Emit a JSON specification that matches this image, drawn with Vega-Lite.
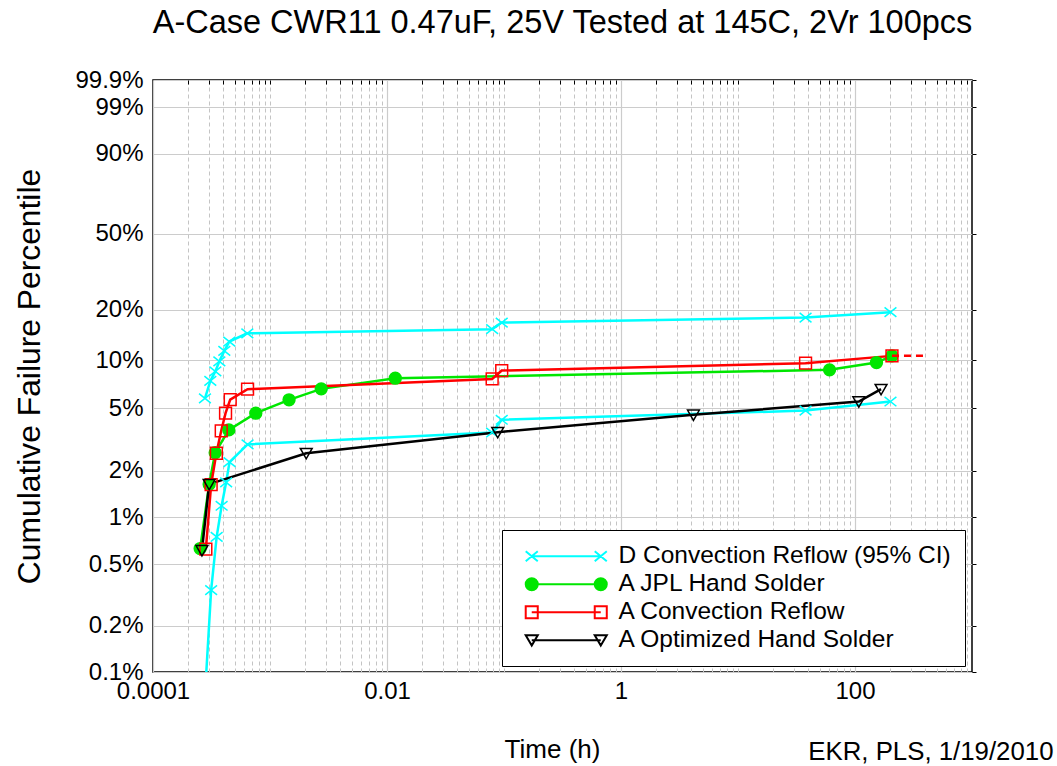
{
  "$schema": "https://vega.github.io/schema/vega-lite/v6.json",
  "width": 819,
  "height": 592,
  "autosize": {"type": "none"},
  "padding": {"left": 153, "top": 80, "right": 85, "bottom": 94},
  "background": "white",
  "config": {
    "font": "Liberation Sans",
    "view": {"stroke": "black", "strokeWidth": 1.5}
  },
  "title": {
    "text": "A-Case CWR11 0.47uF, 25V Tested at 145C, 2Vr 100pcs",
    "fontSize": 32.5,
    "fontWeight": "normal",
    "font": "Liberation Sans",
    "color": "black",
    "anchor": "middle",
    "frame": "group",
    "offset": 29
  },
  "datasets": {
    "points": [
      {"series": "D Convection Reflow (95% CI)", "curve": "upper", "t": 0.000278, "pct": 5.78},
      {"series": "D Convection Reflow (95% CI)", "curve": "upper", "t": 0.000309, "pct": 7.44},
      {"series": "D Convection Reflow (95% CI)", "curve": "upper", "t": 0.000341, "pct": 8.52},
      {"series": "D Convection Reflow (95% CI)", "curve": "upper", "t": 0.000369, "pct": 9.83},
      {"series": "D Convection Reflow (95% CI)", "curve": "upper", "t": 0.000407, "pct": 11.39},
      {"series": "D Convection Reflow (95% CI)", "curve": "upper", "t": 0.000449, "pct": 12.98},
      {"series": "D Convection Reflow (95% CI)", "curve": "upper", "t": 0.00064, "pct": 14.54},
      {"series": "D Convection Reflow (95% CI)", "curve": "upper", "t": 0.0792, "pct": 15.41},
      {"series": "D Convection Reflow (95% CI)", "curve": "upper", "t": 0.0956, "pct": 16.86},
      {"series": "D Convection Reflow (95% CI)", "curve": "upper", "t": 37.8, "pct": 18.04},
      {"series": "D Convection Reflow (95% CI)", "curve": "upper", "t": 201, "pct": 19.39},
      {"series": "D Convection Reflow (95% CI)", "curve": "lower", "t": 0.00026, "pct": 0.03},
      {"series": "D Convection Reflow (95% CI)", "curve": "lower", "t": 0.000314, "pct": 0.339},
      {"series": "D Convection Reflow (95% CI)", "curve": "lower", "t": 0.00035, "pct": 0.75},
      {"series": "D Convection Reflow (95% CI)", "curve": "lower", "t": 0.000386, "pct": 1.19},
      {"series": "D Convection Reflow (95% CI)", "curve": "lower", "t": 0.000422, "pct": 1.685},
      {"series": "D Convection Reflow (95% CI)", "curve": "lower", "t": 0.000451, "pct": 2.27},
      {"series": "D Convection Reflow (95% CI)", "curve": "lower", "t": 0.000643, "pct": 2.95},
      {"series": "D Convection Reflow (95% CI)", "curve": "lower", "t": 0.0792, "pct": 3.51},
      {"series": "D Convection Reflow (95% CI)", "curve": "lower", "t": 0.0956, "pct": 4.23},
      {"series": "D Convection Reflow (95% CI)", "curve": "lower", "t": 37.8, "pct": 4.84},
      {"series": "D Convection Reflow (95% CI)", "curve": "lower", "t": 201, "pct": 5.52},
      {"series": "A JPL Hand Solder", "curve": "main", "t": 0.000253, "pct": 0.63},
      {"series": "A JPL Hand Solder", "curve": "main", "t": 0.000302, "pct": 1.635},
      {"series": "A JPL Hand Solder", "curve": "main", "t": 0.00034, "pct": 2.61},
      {"series": "A JPL Hand Solder", "curve": "main", "t": 0.000445, "pct": 3.65},
      {"series": "A JPL Hand Solder", "curve": "main", "t": 0.000756, "pct": 4.66},
      {"series": "A JPL Hand Solder", "curve": "main", "t": 0.001455, "pct": 5.66},
      {"series": "A JPL Hand Solder", "curve": "main", "t": 0.00274, "pct": 6.63},
      {"series": "A JPL Hand Solder", "curve": "main", "t": 0.01177, "pct": 7.73},
      {"series": "A JPL Hand Solder", "curve": "main", "t": 60.6, "pct": 8.71},
      {"series": "A JPL Hand Solder", "curve": "main", "t": 152.6, "pct": 9.66},
      {"series": "A JPL Hand Solder", "curve": "main", "t": 207, "pct": 10.62},
      {"series": "A Convection Reflow", "curve": "main", "t": 0.000283, "pct": 0.625},
      {"series": "A Convection Reflow", "curve": "main", "t": 0.000314, "pct": 1.63},
      {"series": "A Convection Reflow", "curve": "main", "t": 0.000348, "pct": 2.59},
      {"series": "A Convection Reflow", "curve": "main", "t": 0.000383, "pct": 3.6},
      {"series": "A Convection Reflow", "curve": "main", "t": 0.000417, "pct": 4.66},
      {"series": "A Convection Reflow", "curve": "main", "t": 0.000457, "pct": 5.68},
      {"series": "A Convection Reflow", "curve": "main", "t": 0.000643, "pct": 6.6},
      {"series": "A Convection Reflow", "curve": "main", "t": 0.0792, "pct": 7.65},
      {"series": "A Convection Reflow", "curve": "main", "t": 0.0956, "pct": 8.62},
      {"series": "A Convection Reflow", "curve": "main", "t": 37.8, "pct": 9.58},
      {"series": "A Convection Reflow", "curve": "main", "t": 207, "pct": 10.62},
      {"series": "A Optimized Hand Solder", "curve": "main", "t": 0.000262, "pct": 0.614},
      {"series": "A Optimized Hand Solder", "curve": "main", "t": 0.000302, "pct": 1.64},
      {"series": "A Optimized Hand Solder", "curve": "main", "t": 0.00204, "pct": 2.59},
      {"series": "A Optimized Hand Solder", "curve": "main", "t": 0.0884, "pct": 3.53},
      {"series": "A Optimized Hand Solder", "curve": "main", "t": 4.16, "pct": 4.55},
      {"series": "A Optimized Hand Solder", "curve": "main", "t": 107.8, "pct": 5.52},
      {"series": "A Optimized Hand Solder", "curve": "main", "t": 167, "pct": 6.6}
    ],
    "extension": [
      {"series": "A Convection Reflow", "t": 207, "pct": 10.62},
      {"series": "A Convection Reflow", "t": 410, "pct": 10.62}
    ]
  },
  "layer": [
    {
      "data": {"name": "points"},
      "transform": [{"calculate": "log(-log(1 - datum.pct / 100))", "as": "w"}],
      "mark": {"type": "line", "strokeWidth": 2.5, "clip": true},
      "encoding": {
        "x": {
          "field": "t", "type": "quantitative",
          "scale": {"type": "log", "domain": [0.0001, 1000], "nice": false},
          "axis": {
            "values": [0.0001, 0.01, 1, 100],
            "labelExpr": "format(datum.value, '~g')",
            "grid": true, "gridColor": "#cccccc", "gridWidth": 1.2,
            "domain": false, "ticks": false,
            "labelFontSize": 24, "labelColor": "black", "labelFont": "Liberation Sans",
            "labelPadding": 7, "labelFlush": false, "labelOverlap": false,
            "title": "Time (h)", "titleFontSize": 26, "titleFontWeight": "normal", "titleColor": "black",
            "titleFont": "Liberation Sans",
            "titleX": 399, "titleY": 85, "titleAlign": "center", "titleBaseline": "alphabetic"
          }
        },
        "y": {
          "field": "w", "type": "quantitative",
          "scale": {"domain": [-6.9073, 1.9326], "nice": false, "zero": false},
          "axis": {
            "values": [-6.9073, -6.2136, -5.2958, -4.6002, -3.9019, -2.9702, -2.2504, -1.4999, -0.3665, 0.834, 1.5272, 1.9326],
            "labelExpr": "format(100 * (1 - exp(-exp(datum.value))), '.3~r') + '%'",
            "grid": true, "gridColor": "#cccccc", "gridWidth": 1.2,
            "domain": false, "ticks": false,
            "labelFontSize": 24, "labelColor": "black", "labelFont": "Liberation Sans",
            "labelPadding": 10, "labelFlush": false, "labelOverlap": false,
            "title": "Cumulative Failure Percentile", "titleFontSize": 31.8, "titleFontWeight": "normal",
            "titleColor": "black", "titleFont": "Liberation Sans",
            "titleAngle": 270, "titleX": -114, "titleY": 296, "titleAlign": "center", "titleBaseline": "alphabetic"
          }
        },
        "stroke": {
          "field": "series", "type": "nominal",
          "scale": {
            "domain": ["D Convection Reflow (95% CI)", "A JPL Hand Solder", "A Convection Reflow", "A Optimized Hand Solder"],
            "range": ["#00ffff", "#00e600", "#ff0000", "#000000"]
          },
          "legend": null
        },
        "detail": {"field": "curve", "type": "nominal"}
      }
    },
    {
      "data": {"name": "points"},
      "transform": [{"calculate": "log(-log(1 - datum.pct / 100))", "as": "w"}],
      "mark": {"type": "point", "clip": true, "strokeWidth": 1.5, "size": 140, "opacity": 1},
      "encoding": {
        "x": {
          "field": "t", "type": "quantitative",
          "axis": {
            "values": [0.0002, 0.0003, 0.0004, 0.0005, 0.0006, 0.0007, 0.0008, 0.0009, 0.001, 0.002, 0.003, 0.004, 0.005, 0.006, 0.007, 0.008, 0.009, 0.02, 0.03, 0.04, 0.05, 0.06, 0.07, 0.08, 0.09, 0.1, 0.2, 0.3, 0.4, 0.5, 0.6, 0.7, 0.8, 0.9, 2, 3, 4, 5, 6, 7, 8, 9, 10, 20, 30, 40, 50, 60, 70, 80, 90, 200, 300, 400, 500, 600, 700, 800, 900],
            "grid": true, "gridColor": "#c4c4c4", "gridWidth": 1, "gridDash": [4, 3],
            "labels": false, "ticks": true, "tickSize": -4, "tickColor": "black", "tickWidth": 1,
            "domain": false, "title": null
          }
        },
        "y": {
          "field": "w", "type": "quantitative",
          "axis": {
            "orient": "right",
            "values": [-6.9073, -6.2136, -5.2958, -4.6002, -3.9019, -2.9702, -2.2504, -1.4999, -0.3665, 0.834, 1.5272, 1.9326],
            "grid": false, "labels": false, "domain": false,
            "ticks": true, "tickSize": 4, "tickColor": "black", "tickWidth": 1,
            "title": "EKR, PLS, 1/19/2010", "titleFontSize": 25.8, "titleFontWeight": "normal",
            "titleColor": "black", "titleFont": "Liberation Sans",
            "titleAngle": 0, "titleX": 81, "titleY": 679, "titleAlign": "right", "titleBaseline": "alphabetic"
          }
        },
        "stroke": {"field": "series", "type": "nominal", "legend": null},
        "fill": {
          "field": "series", "type": "nominal",
          "scale": {
            "domain": ["A JPL Hand Solder", "D Convection Reflow (95% CI)", "A Convection Reflow", "A Optimized Hand Solder"],
            "range": ["#00e600", "transparent", "transparent", "transparent"]
          },
          "legend": null
        },
        "shape": {
          "field": "series", "type": "nominal",
          "scale": {
            "domain": ["A JPL Hand Solder", "D Convection Reflow (95% CI)", "A Convection Reflow", "A Optimized Hand Solder"],
            "range": ["circle", "M-1,-0.8L1,0.8M-1,0.8L1,-0.8", "square", "M-1,-0.8L1,-0.8L0,0.95Z"]
          },
          "legend": null
        }
      }
    },
    {
      "data": {"name": "extension"},
      "transform": [{"calculate": "log(-log(1 - datum.pct / 100))", "as": "w"}],
      "mark": {"type": "line", "stroke": "#ff0000", "strokeWidth": 2.5, "strokeDash": [7, 5], "clip": true},
      "encoding": {
        "x": {"field": "t", "type": "quantitative", "axis": null},
        "y": {"field": "w", "type": "quantitative", "axis": null}
      }
    },
    {
      "data": {"name": "points"},
      "transform": [{"filter": "false"}, {"calculate": "log(-log(1 - datum.pct / 100))", "as": "w"}],
      "mark": {"type": "point", "strokeWidth": 2, "opacity": 1},
      "encoding": {
        "x": {"field": "t", "type": "quantitative", "axis": null},
        "y": {"field": "w", "type": "quantitative", "axis": null},
        "stroke": {
          "field": "series", "type": "nominal",
          "legend": {
            "title": null,
            "orient": "none", "legendX": 349, "legendY": 450,
            "padding": 14, "strokeColor": "black", "fillColor": "white", "cornerRadius": 0,
            "labelFontSize": 24.5, "labelFont": "Liberation Sans", "labelColor": "black", "labelLimit": 600,
            "symbolSize": 196, "symbolStrokeWidth": 2, "symbolOffset": 38, "labelOffset": 40,
            "symbolOpacity": 1, "rowPadding": 3
          }
        },
        "shape": {
          "field": "series", "type": "nominal",
          "scale": {
            "domain": ["D Convection Reflow (95% CI)", "A JPL Hand Solder", "A Convection Reflow", "A Optimized Hand Solder"],
            "range": [
              "M-4.93,0L4.93,0M-5.79,-0.71L-4.07,0.71M-5.79,0.71L-4.07,-0.71M4.07,-0.71L5.79,0.71M4.07,0.71L5.79,-0.71",
              "M-4.93,0L4.93,0M-4.07,0A0.86,0.86 0 1 1 -5.79,0A0.86,0.86 0 1 1 -4.07,0M-4.33,0A0.6,0.6 0 1 1 -5.53,0A0.6,0.6 0 1 1 -4.33,0M-4.58,0A0.35,0.35 0 1 1 -5.28,0A0.35,0.35 0 1 1 -4.58,0M-4.81,0A0.12,0.12 0 1 1 -5.05,0A0.12,0.12 0 1 1 -4.81,0M5.79,0A0.86,0.86 0 1 1 4.07,0A0.86,0.86 0 1 1 5.79,0M5.53,0A0.6,0.6 0 1 1 4.33,0A0.6,0.6 0 1 1 5.53,0M5.28,0A0.35,0.35 0 1 1 4.58,0A0.35,0.35 0 1 1 5.28,0M5.05,0A0.12,0.12 0 1 1 4.81,0A0.12,0.12 0 1 1 5.05,0",
              "M-4.93,0L4.93,0M-5.79,-0.86L-4.07,-0.86L-4.07,0.86L-5.79,0.86ZM4.07,-0.86L5.79,-0.86L5.79,0.86L4.07,0.86Z",
              "M-4.93,0L4.93,0M-5.79,-0.7L-4.07,-0.7L-4.93,0.75ZM4.07,-0.7L5.79,-0.7L4.93,0.75Z"
            ]
          },
          "legend": {
            "title": null,
            "orient": "none", "legendX": 349, "legendY": 450,
            "padding": 14, "strokeColor": "black", "fillColor": "white", "cornerRadius": 0,
            "labelFontSize": 24.5, "labelFont": "Liberation Sans", "labelColor": "black", "labelLimit": 600,
            "symbolSize": 196, "symbolStrokeWidth": 2, "symbolOffset": 38, "labelOffset": 40,
            "symbolOpacity": 1, "rowPadding": 3
          }
        }
      }
    }
  ],
  "resolve": {
    "axis": {"x": "independent", "y": "independent"},
    "scale": {"shape": "independent"},
    "legend": {"stroke": "independent", "shape": "independent", "fill": "independent"}
  }
}
